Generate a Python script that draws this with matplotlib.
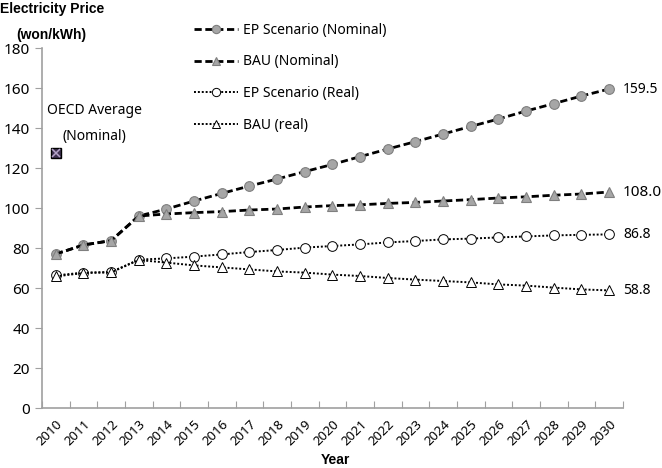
import matplotlib.pyplot as plt

# chart data
years = [str(y) for y in range(2010, 2031)]
ep_nominal = [77, 81.5, 83.7, 96, 99.5, 103.5, 107.3, 111, 114.5, 118.2, 121.8,
              125.7, 129.5, 133.2, 137, 140.8, 144.5, 148.5, 152.2, 156, 159.5]
bau_nominal = [77, 81.5, 83.7, 96, 97, 97.7, 98.2, 99, 99.5, 100.5, 101.2,
               101.6, 102.3, 102.8, 103.5, 104.2, 105, 105.6, 106.4, 107, 108.0]
ep_real = [66.3, 67.7, 68, 74.2, 74.8, 75.7, 76.8, 78, 79, 80.2, 81,
           81.8, 82.8, 83.5, 84.3, 84.7, 85.3, 85.8, 86.3, 86.6, 86.8]
bau_real = [65.8, 67.5, 67.8, 74, 72.7, 71.3, 70.3, 69.3, 68.3, 67.7, 66.7,
            66, 65, 64.2, 63.5, 62.8, 61.8, 61.2, 60.2, 59.3, 58.8]
oecd_avg = 127.5
end_labels = ['159.5', '108.0', '86.8', '58.8']

plt.rcParams['font.family'] = ['Noto Sans', 'DejaVu Sans']
bold_font = ['Liberation Sans', 'DejaVu Sans']

fig = plt.figure(figsize=(6.62, 4.68), dpi=100)
ax = fig.add_axes([0.0634, 0.1282, 0.8776, 0.7692])

x = list(range(len(years)))

dash = (0, (2.6, 1.3))
dot = (0, (1, 1))
ax.plot(x, ep_nominal, ls=dash, lw=2, color='black', marker='o', ms=7,
        mfc='#a6a6a6', mec='#7f7f7f', mew=0.8, label='EP Scenario (Nominal)')
ax.plot(x, bau_nominal, ls=dash, lw=2, color='black', marker='^', ms=7.5,
        mfc='#a6a6a6', mec='#7f7f7f', mew=0.8, label='BAU (Nominal)')
ax.plot(x, ep_real, ls=dot, lw=1.4, color='black', marker='o', ms=7,
        mfc='white', mec='black', mew=0.7, label='EP Scenario (Real)')
ax.plot(x, bau_real, ls=dot, lw=1.4, color='black', marker='^', ms=7.5,
        mfc='white', mec='black', mew=0.7, label='BAU (real)')

# OECD average marker
ax.plot([0], [oecd_avg], marker='s', ms=7, mfc='#3f3151', mec='black', ls='none')
ax.plot([0], [oecd_avg], marker='x', ms=6, mec='#b3a2c7', mew=1.1, ls='none')
ax.text(1.4, 148.6, 'OECD Average', ha='center', va='center', fontsize=10)
ax.text(1.4, 136, '(Nominal)', ha='center', va='center', fontsize=10)

# end value labels
for series, lab, fs in zip([ep_nominal, bau_nominal, ep_real, bau_real], end_labels,
                           [10, 11, 10, 10]):
    ax.text(len(years) - 1 + 0.5, series[-1], lab, ha='left', va='center', fontsize=fs)

ax.set_xlim(-0.5, len(years) - 0.5)
ax.set_ylim(0, 180)
ax.set_yticks(range(0, 181, 20))
ax.set_xticks([i - 0.5 for i in range(len(years) + 1)])
ax.set_xticklabels([])
ax.set_xticks(x, minor=True)
ax.set_xticklabels(years, minor=True, rotation=45, ha='right', rotation_mode='anchor',
                   fontsize=9.5)
ax.tick_params(axis='x', which='minor', length=0, pad=7)
ax.tick_params(axis='x', which='major', length=5, color='#a0a0a0', direction='in')
ax.tick_params(axis='y', length=5, color='#a0a0a0', labelsize=11)

for s in ['top', 'right']:
    ax.spines[s].set_visible(False)
for s in ['left', 'bottom']:
    ax.spines[s].set_color('#a0a0a0')
    ax.spines[s].set_linewidth(1.2)

fig.text(0.0, 0.995, 'Electricity Price', ha='left', va='top', fontsize=10,
         fontweight='bold', family=bold_font)
fig.text(0.024, 0.94, '(won/kWh)', ha='left', va='top', fontsize=10,
         fontweight='bold', family=bold_font)
fig.text(0.506, 0.003, 'Year', ha='center', va='bottom', fontsize=10,
         fontweight='bold', family=bold_font)

ax.legend(loc='upper left', bbox_to_anchor=(0.24, 1.105), frameon=False, fontsize=10,
          handlelength=3.2, handletextpad=0.3, labelspacing=1.2, markerscale=0.85)

fig.savefig('out.png', dpi=100)
